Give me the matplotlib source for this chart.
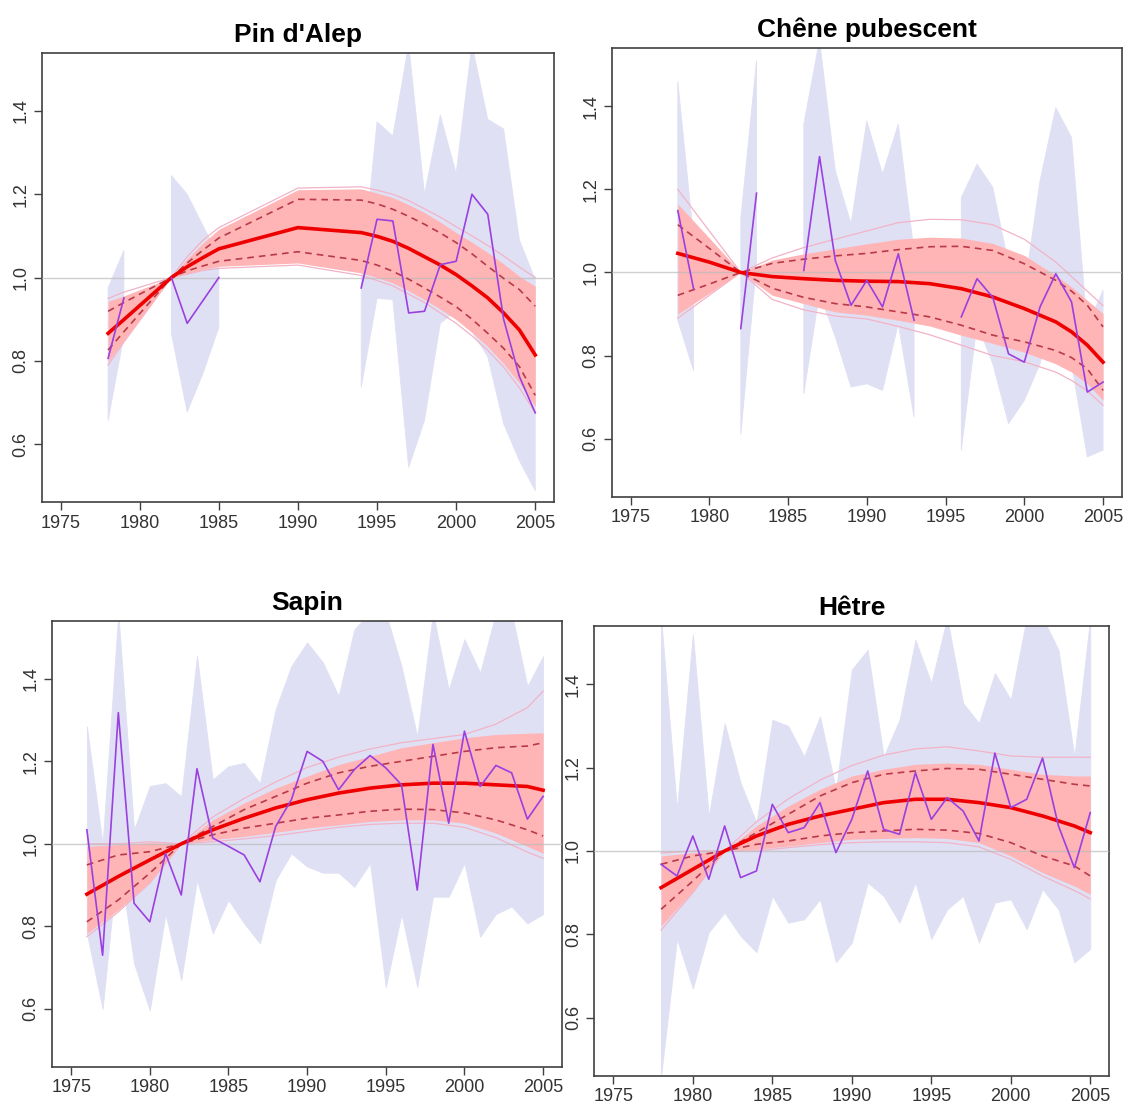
import numpy as np
import matplotlib
matplotlib.use("Agg")
import matplotlib.pyplot as plt
from matplotlib.ticker import FormatStrFormatter

plt.rcParams['font.family'] = ['Liberation Sans', 'DejaVu Sans']

nan = np.nan

# ---- Pin d'Alep ----
pin_years = list(range(1978, 2006))
pin_obs = [0.806, 0.951, nan, nan, 1.0, 0.89, 0.945, 1.0,
           nan, nan, nan, nan, nan, nan, nan, nan,
           0.975, 1.14, 1.136, 0.915, 0.919, 1.031, 1.039, 1.2, 1.152, 0.9, 0.762, 0.675]
pin_lav_hi = [0.975, 1.065, nan, nan, 1.245, 1.20, 1.124, 1.05,
              nan, nan, nan, nan, nan, nan, nan, nan,
              0.99, 1.374, 1.34, 1.56, 1.2, 1.39, 1.25, 1.56, 1.38, 1.357, 1.09, 0.995]
pin_lav_lo = [0.657, 0.86, nan, nan, 0.866, 0.677, 0.77, 0.88,
              nan, nan, nan, nan, nan, nan, nan, nan,
              0.737, 0.95, 0.947, 0.544, 0.657, 0.89, 0.92, 0.87, 0.81, 0.649, 0.56, 0.488]
pin_fit_years = [1978, 1979, 1982, 1983, 1984, 1985, 1990, 1994, 1995, 1996, 1997,
                 1998, 1999, 2000, 2001, 2002, 2003, 2004, 2005]
pin_med = [0.866, 0.899, 1.0, 1.026, 1.048, 1.069, 1.12, 1.108, 1.099, 1.087, 1.07,
           1.05, 1.03, 1.007, 0.98, 0.951, 0.915, 0.874, 0.814]
pin_q_hi = [0.919, 0.94, 1.0, 1.035, 1.066, 1.095, 1.188, 1.186, 1.177, 1.164, 1.147,
            1.128, 1.107, 1.084, 1.057, 1.027, 0.998, 0.971, 0.931]
pin_q_lo = [0.826, 0.87, 1.0, 1.016, 1.028, 1.039, 1.062, 1.041, 1.03, 1.015, 0.996,
            0.975, 0.953, 0.93, 0.9, 0.866, 0.83, 0.786, 0.717]
pin_band_hi = [0.943, 0.956, 1.0, 1.045, 1.083, 1.116, 1.211, 1.213, 1.203, 1.192, 1.175,
               1.156, 1.133, 1.108, 1.085, 1.06, 1.033, 1.003, 0.979]
pin_band_lo = [0.798, 0.85, 1.0, 1.01, 1.02, 1.027, 1.035, 1.011, 1.0, 0.987, 0.968,
               0.947, 0.924, 0.899, 0.868, 0.834, 0.793, 0.746, 0.69]
pin_out_hi = [0.95, 0.965, 1.0, 1.05, 1.09, 1.12, 1.215, 1.218, 1.21, 1.2, 1.185,
              1.165, 1.145, 1.122, 1.1, 1.077, 1.052, 1.025, 1.0]
pin_out_lo = [0.79, 0.845, 1.0, 1.008, 1.017, 1.022, 1.03, 1.005, 0.993, 0.98, 0.96,
              0.94, 0.915, 0.89, 0.86, 0.825, 0.785, 0.735, 0.675]

# ---- Chêne pubescent ----
chene_years = list(range(1978, 2006))
chene_obs = [1.149, 0.961, nan, nan, 0.865, 1.191, nan, nan, 1.005, 1.279, 1.029, 0.921,
             0.981, 0.917, 1.045, 0.885, nan, nan, 0.893, 0.985, 0.94, 0.804, 0.784,
             0.917, 0.997, 0.929, 0.712, 0.736]
chene_lav_hi = [1.46, 1.085, nan, nan, 1.13, 1.51, nan, nan, 1.357, 1.56, 1.245, 1.117,
                1.365, 1.237, 1.357, 1.05, nan, nan, 1.18, 1.261, 1.205, 1.02, 0.957,
                1.221, 1.397, 1.325, 0.869, 0.957]
chene_lav_lo = [0.885, 0.764, nan, nan, 0.61, 1.02, nan, nan, 0.708, 0.95, 0.845, 0.724,
                0.732, 0.716, 0.877, 0.652, nan, nan, 0.572, 0.877, 0.78, 0.636, 0.692,
                0.78, 0.933, 0.78, 0.556, 0.572]
chene_fit_years = [1978, 1980, 1982, 1984, 1986, 1988, 1990, 1992, 1994, 1996, 1998,
                   2000, 2002, 2003, 2004, 2005]
chene_med = [1.046, 1.025, 1.0, 0.99, 0.985, 0.981, 0.979, 0.978, 0.973, 0.961, 0.941,
             0.913, 0.881, 0.857, 0.825, 0.784]
chene_q_hi = [0.945, 0.972, 1.0, 1.022, 1.032, 1.04, 1.046, 1.055, 1.062, 1.063, 1.053,
              1.021, 0.981, 0.955, 0.921, 0.869]
chene_q_lo = [1.115, 1.058, 1.0, 0.962, 0.94, 0.925, 0.917, 0.905, 0.893, 0.873, 0.849,
              0.833, 0.812, 0.795, 0.768, 0.716]
chene_band_hi = [1.165, 1.083, 1.0, 1.03, 1.045, 1.057, 1.069, 1.08, 1.085, 1.083, 1.07,
                 1.041, 0.993, 0.965, 0.933, 0.901]
chene_band_lo = [0.9, 0.95, 1.0, 0.945, 0.925, 0.905, 0.897, 0.885, 0.871, 0.849, 0.829,
                 0.808, 0.78, 0.76, 0.732, 0.692]
chene_out_hi = [1.2, 1.1, 1.0, 1.035, 1.06, 1.08, 1.1, 1.12, 1.128, 1.127, 1.115,
                1.08, 1.025, 0.99, 0.955, 0.92]
chene_out_lo = [0.89, 0.945, 1.0, 0.935, 0.91, 0.895, 0.888, 0.87, 0.85, 0.825, 0.8,
                0.785, 0.76, 0.74, 0.715, 0.68]

# ---- Sapin ----
sapin_years = list(range(1976, 2006))
sapin_obs = [1.034, 0.73, 1.318, 0.856, 0.811, 0.977, 0.876, 1.182, 1.014, 0.994,
             0.973, 0.908, 1.042, 1.107, 1.224, 1.2, 1.131, 1.18, 1.214, 1.184,
             1.143, 0.888, 1.241, 1.05, 1.273, 1.139, 1.19, 1.172, 1.06, 1.115]
sapin_lav_hi = [1.285, 1.0, 1.56, 1.034, 1.14, 1.147, 1.115, 1.455, 1.156, 1.188,
                1.196, 1.147, 1.326, 1.431, 1.488, 1.44, 1.358, 1.52, 1.56, 1.56,
                1.43, 1.26, 1.56, 1.374, 1.496, 1.415, 1.56, 1.56, 1.382, 1.455]
sapin_lav_lo = [0.783, 0.6, 0.977, 0.71, 0.596, 0.83, 0.67, 0.912, 0.783, 0.864,
                0.807, 0.759, 0.912, 0.977, 0.945, 0.93, 0.93, 0.896, 0.953, 0.653,
                0.83, 0.653, 0.872, 0.872, 0.953, 0.775, 0.83, 0.848, 0.807, 0.83]
sapin_fit_years = [1976, 1978, 1980, 1982, 1984, 1986, 1988, 1990, 1992, 1994, 1996,
                   1998, 2000, 2002, 2004, 2005]
sapin_med = [0.878, 0.921, 0.961, 1.0, 1.034, 1.062, 1.087, 1.107, 1.123, 1.135, 1.143,
             1.147, 1.147, 1.143, 1.139, 1.13]
sapin_q_hi = [0.949, 0.973, 0.981, 1.0, 1.042, 1.083, 1.115, 1.147, 1.172, 1.188, 1.2,
              1.212, 1.224, 1.233, 1.237, 1.245]
sapin_q_lo = [0.811, 0.864, 0.929, 1.0, 1.022, 1.038, 1.05, 1.062, 1.07, 1.079, 1.084,
              1.083, 1.075, 1.058, 1.034, 1.019]
sapin_band_hi = [0.994, 0.998, 1.003, 1.0, 1.058, 1.099, 1.135, 1.164, 1.192, 1.212, 1.233,
                 1.245, 1.257, 1.265, 1.268, 1.269]
sapin_band_lo = [0.783, 0.84, 0.908, 1.0, 1.01, 1.018, 1.028, 1.038, 1.046, 1.054, 1.058,
                 1.058, 1.05, 1.026, 0.994, 0.977]
sapin_out_hi = [1.0, 1.0, 1.005, 1.0, 1.065, 1.11, 1.15, 1.185, 1.21, 1.23, 1.245,
                1.255, 1.265, 1.29, 1.33, 1.37]
sapin_out_lo = [0.775, 0.835, 0.905, 1.0, 1.005, 1.012, 1.02, 1.03, 1.04, 1.047, 1.05,
                1.05, 1.04, 1.015, 0.98, 0.965]

# ---- Hêtre ----
hetre_years = list(range(1978, 2006))
hetre_obs = [0.968, 0.94, 1.036, 0.932, 1.06, 0.936, 0.952, 1.112, 1.044, 1.056,
             1.116, 0.996, 1.076, 1.192, 1.052, 1.04, 1.188, 1.076, 1.128, 1.096,
             1.024, 1.235, 1.104, 1.124, 1.223, 1.06, 0.96, 1.092]
hetre_lav_hi = [1.56, 1.1, 1.52, 1.084, 1.307, 1.164, 1.068, 1.315, 1.3, 1.227,
                1.323, 1.148, 1.435, 1.483, 1.227, 1.315, 1.507, 1.403, 1.56, 1.355,
                1.307, 1.427, 1.363, 1.56, 1.56, 1.483, 1.227, 1.56]
hetre_lav_lo = [0.46, 0.789, 0.67, 0.805, 0.852, 0.796, 0.757, 0.892, 0.828, 0.836,
                0.884, 0.733, 0.78, 0.924, 0.892, 0.828, 0.924, 0.789, 0.86, 0.892,
                0.78, 0.876, 0.884, 0.812, 0.908, 0.86, 0.733, 0.765]
hetre_fit_years = [1978, 1980, 1982, 1984, 1986, 1988, 1990, 1992, 1994, 1996, 1998,
                   2000, 2002, 2004, 2005]
hetre_med = [0.912, 0.956, 1.0, 1.036, 1.064, 1.084, 1.1, 1.116, 1.124, 1.124, 1.116,
             1.104, 1.084, 1.06, 1.044]
hetre_q_hi = [0.968, 0.988, 1.0, 1.044, 1.088, 1.132, 1.164, 1.184, 1.192, 1.198, 1.196,
              1.184, 1.172, 1.16, 1.156]
hetre_q_lo = [0.86, 0.928, 1.0, 1.016, 1.024, 1.036, 1.044, 1.048, 1.052, 1.05, 1.042,
              1.02, 0.988, 0.964, 0.94]
hetre_band_hi = [0.988, 0.996, 1.0, 1.06, 1.108, 1.148, 1.18, 1.196, 1.208, 1.211, 1.208,
                 1.196, 1.184, 1.18, 1.18]
hetre_band_lo = [0.82, 0.904, 1.0, 1.004, 1.012, 1.02, 1.028, 1.03, 1.032, 1.03, 1.02,
                 0.988, 0.948, 0.916, 0.896]
hetre_out_hi = [0.995, 1.0, 1.0, 1.07, 1.125, 1.17, 1.205, 1.23, 1.245, 1.25, 1.24,
                1.228, 1.225, 1.225, 1.225]
hetre_out_lo = [0.81, 0.9, 1.0, 1.0, 1.008, 1.015, 1.02, 1.022, 1.022, 1.02, 1.01,
                0.98, 0.94, 0.905, 0.885]

x_ticks = [1975, 1980, 1985, 1990, 1995, 2000, 2005]
y_ticks = [0.6, 0.8, 1.0, 1.2, 1.4]

LAVENDER = '#E0E0F5'
PINK = '#FFB4B6'
PINK_LINE = '#F2B3C6'
DASH = '#B83A48'
MED = '#EE0000'
OBS = '#9A40E0'
AXCOL = '#404040'


def draw_panel(ax, title, years, obs, lav_hi, lav_lo, fit_years, med,
               q_hi, q_lo, band_hi, band_lo, out_hi, out_lo):
    years = np.array(years, dtype=float)
    ax.fill_between(years, np.array(lav_lo, dtype=float), np.array(lav_hi, dtype=float),
                    color=LAVENDER, lw=0.6, zorder=1)
    ax.plot(fit_years, out_hi, color=PINK_LINE, lw=0.9, zorder=2)
    ax.plot(fit_years, out_lo, color=PINK_LINE, lw=0.9, zorder=2)
    ax.fill_between(fit_years, band_lo, band_hi, color=PINK, lw=0, zorder=2)
    ax.axhline(1.0, color='#BBBBBB', lw=1.0, alpha=0.7, zorder=3)
    ax.plot(fit_years, q_hi, color=DASH, lw=1.2, dashes=(4, 3), zorder=4)
    ax.plot(fit_years, q_lo, color=DASH, lw=1.2, dashes=(4, 3), zorder=4)
    ax.plot(fit_years, med, color=MED, lw=2.6, zorder=5)
    ax.plot(years, np.array(obs, dtype=float), color=OBS, lw=1.2, zorder=6)

    ax.set_xlim(1973.8, 2006.2)
    ax.set_ylim(0.46, 1.54)
    ax.set_xticks(x_ticks)
    ax.set_yticks(y_ticks)
    ax.yaxis.set_major_formatter(FormatStrFormatter('%.1f'))
    ax.tick_params(direction='out', length=6, width=1.0, color=AXCOL,
                   labelsize=13, labelcolor='#333333', pad=3)
    for lbl in ax.get_yticklabels():
        lbl.set_rotation(90)
        lbl.set_va('center')
    for sp in ax.spines.values():
        sp.set_color(AXCOL)
        sp.set_linewidth(1.2)
    ax.set_title(title, fontsize=19, fontweight='bold', pad=8)


fig = plt.figure(figsize=(11.26, 11.04), dpi=100)
ax1 = fig.add_axes([0.0370, 0.5450, 0.4552, 0.4072])
ax2 = fig.add_axes([0.5432, 0.5501, 0.4532, 0.4062])
ax3 = fig.add_axes([0.0464, 0.0338, 0.4527, 0.4037])
ax4 = fig.add_axes([0.5278, 0.0254, 0.4574, 0.4076])

draw_panel(ax1, "Pin d'Alep", pin_years, pin_obs, pin_lav_hi, pin_lav_lo, pin_fit_years,
           pin_med, pin_q_hi, pin_q_lo, pin_band_hi, pin_band_lo, pin_out_hi, pin_out_lo)
draw_panel(ax2, "Chêne pubescent", chene_years, chene_obs, chene_lav_hi, chene_lav_lo,
           chene_fit_years, chene_med, chene_q_hi, chene_q_lo, chene_band_hi,
           chene_band_lo, chene_out_hi, chene_out_lo)
draw_panel(ax3, "Sapin", sapin_years, sapin_obs, sapin_lav_hi, sapin_lav_lo,
           sapin_fit_years, sapin_med, sapin_q_hi, sapin_q_lo, sapin_band_hi,
           sapin_band_lo, sapin_out_hi, sapin_out_lo)
draw_panel(ax4, "Hêtre", hetre_years, hetre_obs, hetre_lav_hi, hetre_lav_lo,
           hetre_fit_years, hetre_med, hetre_q_hi, hetre_q_lo, hetre_band_hi,
           hetre_band_lo, hetre_out_hi, hetre_out_lo)

fig.savefig("out.png", dpi=100)
